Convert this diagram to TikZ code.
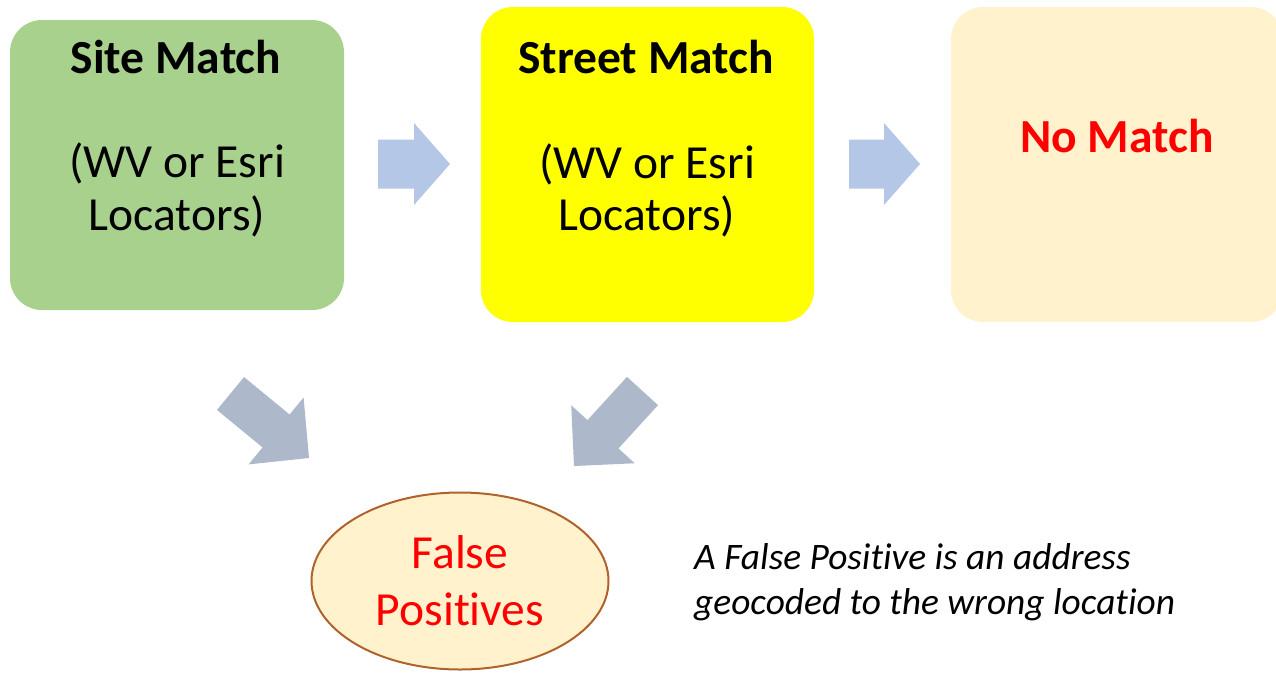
\documentclass[tikz,border=0pt]{standalone}
\usepackage{fontspec}
\setmainfont{Carlito}[Ligatures={NoCommon,NoContextual},RawFeature={-clig;-dlig}]
\usetikzlibrary{shapes.geometric}

\definecolor{sitegreen}{HTML}{A9D18E}
\definecolor{streetyellow}{HTML}{FFFF00}
\definecolor{nomatchcream}{HTML}{FFF2CC}
\definecolor{flowblue}{HTML}{B4C7E7}
\definecolor{downgray}{HTML}{ADB9CA}
\definecolor{fpbrown}{RGB}{176,98,44}
\definecolor{fpred}{HTML}{FF0000}

% block arrow: style, tail middle, angle, length, half shaft, half head, head length
\newcommand{\blockarrow}[7]{%
  \fill[#1, shift={#2}, rotate=#3] (0,-#5) -- ({#4-#7},-#5) -- ({#4-#7},-#6) -- (#4,0)
    -- ({#4-#7},#6) -- ({#4-#7},#5) -- (0,#5) -- cycle;}

\begin{document}
\begin{tikzpicture}[x=1pt, y=-1pt,
  box/.style = {rectangle, rounded corners=32pt, inner sep=0pt},
  bigtext/.style = {font=\fontsize{47.5}{53}\selectfont, inner sep=0pt, align=center},
  notetext/.style = {font=\fontsize{37.4}{45}\selectfont\itshape, inner sep=0pt, align=left}]
  \useasboundingbox (0,0) rectangle (1276,672);
  \clip (0,0) rectangle (1276,672);

  % the three boxes
  \node[box, fill=sitegreen, minimum width=334pt, minimum height=290pt] (site) at (177,165) {};
  \node[box, fill=streetyellow, minimum width=333pt, minimum height=315pt] (street) at (647.5,164.5) {};
  \node[box, fill=nomatchcream, minimum width=332pt, minimum height=315pt] (nomatch) at (1117,164.5) {};

  \node[bigtext, anchor=base] (sitetitle) at (176,73) {\bfseries Site Match};
  \node[bigtext, anchor=base] (sitesub) at (177,177) {(WV or Esri};
  \node[bigtext, anchor=base] (sitesub2) at (177,230) {Locators)};
  \node[bigtext, anchor=base] (streettitle) at (646,73) {\bfseries Street Match};
  \node[bigtext, anchor=base] (streetsub) at (647,178) {(WV or Esri};
  \node[bigtext, anchor=base] (streetsub2) at (647,230) {Locators)};
  \node[bigtext, anchor=base, text=fpred] (nomatchtitle) at (1117,152) {\bfseries No Match};

  % false positives
  \node[ellipse, draw=fpbrown, line width=2pt, fill=nomatchcream,
        minimum width=297pt, minimum height=177pt] (fp) at (460,581) {};
  \node[bigtext, anchor=base, text=fpred] (fptext) at (460,568) {False};
  \node[bigtext, anchor=base, text=fpred] (fptext2) at (460,625) {Positives};

  \node[notetext, anchor=base west] (note) at (694,569) {A False Positive is an address};
  \node[notetext, anchor=base west] (note2) at (694,614) {geocoded to the wrong location};

  % arrows
  \blockarrow{flowblue}{(378,164)}{0}{72}{24.5}{41}{36}
  \blockarrow{flowblue}{(849,164)}{0}{71}{24.5}{41}{36}
  \blockarrow{downgray}{(230.5,393.5)}{-39.4}{101.6}{21.3}{43.3}{42.6}
  \blockarrow{downgray}{(642.5,391)}{-132.4}{101.6}{21}{43}{43}
\end{tikzpicture}
\end{document}
